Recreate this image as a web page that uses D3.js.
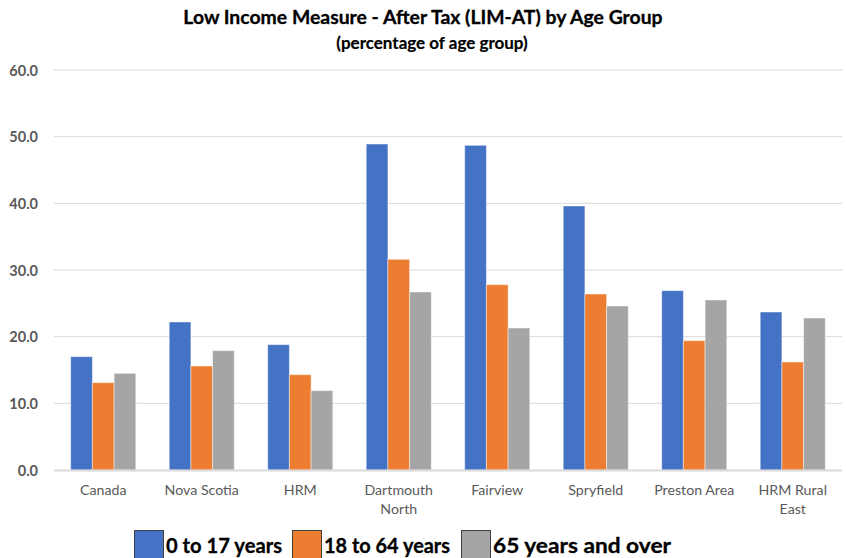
<!DOCTYPE html>
<html><head><meta charset="utf-8">
<script src="https://cdn.jsdelivr.net/npm/d3@7"></script>
<style>body{margin:0;background:#fff}svg{display:block}</style>
</head><body><svg id="c" width="846" height="558"></svg>
<script>
const categories = ["Canada","Nova Scotia","HRM","Dartmouth North","Fairview","Spryfield","Preston Area","HRM Rural East"];
const catLines = [["Canada"],["Nova Scotia"],["HRM"],["Dartmouth","North"],["Fairview"],["Spryfield"],["Preston Area"],["HRM Rural","East"]];
const seriesNames = ["0 to 17 years","18 to 64 years","65 years and over"];
const age0to17 = [17.0,22.2,18.8,48.9,48.7,39.6,26.9,23.7];
const age18to64 = [13.1,15.6,14.3,31.6,27.8,26.4,19.4,16.2];
const age65plus = [14.5,17.9,11.9,26.7,21.3,24.6,25.5,22.8];
const yTicks = [0,10,20,30,40,50,60];
const colors = ["#4472C4","#ED7D31","#A5A5A5"];
const series = [age0to17, age18to64, age65plus];

const svg = d3.select("#c");
const font = "Lato, 'Open Sans', sans-serif";
const pLeft = 54, pRight = 842, pTop = 70, pBottom = 470;
const x = d3.scaleBand().domain(categories).range([pLeft, pRight]).paddingInner(0).paddingOuter(0);
const y = d3.scaleLinear().domain([0,60]).range([pBottom, pTop]);
const xs = d3.scaleBand().domain([0,1,2]).range([0, x.bandwidth()]).paddingInner(0).paddingOuter(0.77);

// gridlines
svg.append("g").selectAll("line").data(yTicks.filter(d=>d>0)).join("line")
  .attr("x1", pLeft).attr("x2", pRight).attr("y1", d=>y(d)).attr("y2", d=>y(d))
  .attr("stroke", "#d9d9d9").attr("stroke-width", 1);

// y labels
const yAxis = d3.axisLeft(y).tickValues(yTicks).tickFormat(d3.format(".1f")).tickSize(0).tickPadding(0);
const ga = svg.append("g").attr("transform", `translate(38,0)`).call(yAxis);
ga.select(".domain").remove();
ga.selectAll("text").attr("font-family", font).attr("font-size", 14.5).attr("font-weight", "bold").attr("fill", "#595959").attr("dy","0.35em");

// bars
const groups = svg.append("g").selectAll("g").data(categories).join("g")
  .attr("transform", d=>`translate(${x(d)},0)`);
groups.selectAll("rect").data((d,i)=>series.map((s,j)=>({j, v:s[i]}))).join("rect")
  .attr("x", d=>xs(d.j)).attr("width", xs.bandwidth())
  .attr("y", d=>y(d.v)).attr("height", d=>y(0)-y(d.v))
  .attr("fill", d=>colors[d.j]).attr("stroke", "#ffffff").attr("stroke-opacity",0.45).attr("stroke-width", 1);

// baseline
svg.append("line").attr("x1", pLeft).attr("x2", pRight).attr("y1", pBottom+0.5).attr("y2", pBottom+0.5)
  .attr("stroke", "#d9d9d9").attr("stroke-width", 2);

// x labels
const xl = svg.append("g").selectAll("text").data(categories).join("text")
  .attr("x", d=>x(d)+x.bandwidth()/2).attr("y", 495)
  .attr("text-anchor","middle").attr("font-family", font).attr("font-size", 14.2).attr("fill", "#595959");
xl.each(function(d,i){
  const t = d3.select(this);
  catLines[i].forEach((ln,k)=>t.append("tspan").attr("x", x(d)+x.bandwidth()/2).attr("dy", k===0?0:19).text(ln));
});

// title
svg.append("text").attr("x", 423).attr("y", 24).attr("text-anchor","middle")
  .attr("font-family", font).attr("font-size", 19.4).attr("font-weight","bold").attr("fill","#000")
  .attr("stroke","#000").attr("stroke-width",0.3)
  .text("Low Income Measure - After Tax (LIM-AT) by Age Group");
svg.append("text").attr("x", 432).attr("y", 49).attr("text-anchor","middle")
  .attr("font-family", font).attr("font-size", 17).attr("font-weight","bold").attr("fill","#000")
  .attr("stroke","#000").attr("stroke-width",0.2)
  .text("(percentage of age group)");

// legend
const legX = [134, 292, 461];
const legW = [116, 126, 178];
const lg = svg.append("g").selectAll("g").data(seriesNames).join("g")
  .attr("transform", (d,i)=>`translate(${legX[i]},0)`);
lg.append("rect").attr("x",0.5).attr("y",530.5).attr("width",29).attr("height",29)
  .attr("fill",(d,i)=>colors[i]).attr("stroke","#404040").attr("stroke-width",1);
lg.append("text").attr("x",32).attr("y",553).attr("font-family",font).attr("font-size",20.5)
  .attr("font-weight","bold").attr("fill","#000").attr("stroke","#000").attr("stroke-width",0.3)
  .attr("textLength",(d,i)=>legW[i]).attr("lengthAdjust","spacingAndGlyphs").text(d=>d);
</script></body></html>
